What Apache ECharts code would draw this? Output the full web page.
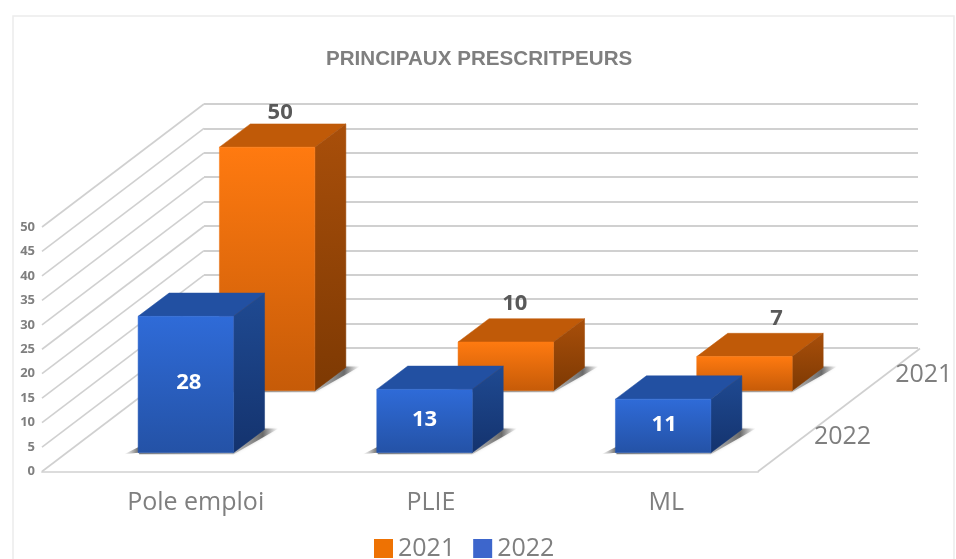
<!DOCTYPE html>
<html>
<head>
<meta charset="utf-8">
<title>Principaux prescripteurs</title>
<script src="https://cdn.jsdelivr.net/npm/echarts@6/dist/echarts.min.js"></script>
<style>
  html, body { margin: 0; padding: 0; background: #fff; }
  #chart { width: 956px; height: 559px; }
</style>
</head>
<body>
<div id="chart"></div>
<script>
const categories = ["Pole emploi", "PLIE", "ML"];
const values2021 = [50, 10, 7];
const values2022 = [28, 13, 11];
const yTicks = [0, 5, 10, 15, 20, 25, 30, 35, 40, 45, 50];

// oblique projection: how far back the floor goes, and how deep one bar is
const floorDx = 162, floorDy = 123;
const barDx = 31, barDy = 23.3;
const barRatio = 0.4;
const fontName = '"Open Sans", sans-serif';

// data label shifts [x, y] (labels were placed by hand in the original)
const labelShift2021 = [[13, -11], [9, -15], [32, -15]];
const labelShift2022 = [[3, -2], [0, -1], [1, -1]];

const grey = "#7f7f7f";
const lineGrey = "#d0d0d0";

function vertical(a, b) {
  return { type: "linear", x: 0, y: 0, x2: 0, y2: 1, colorStops: [{ offset: 0, color: a }, { offset: 1, color: b }] };
}

function horizontal(stops) {
  return { type: "linear", x: 0, y: 0, x2: 1, y2: 0, colorStops: stops };
}

function barRenderer(colors, labelFn) {
  return function (params, api) {
    const i = api.value(0);
    const base = api.coord([i, 0]);
    const top = api.coord([i, api.value(1)]);
    const w = api.size([1, 0])[0] * barRatio;
    const l = base[0] - w / 2, r = base[0] + w / 2;
    const yb = base[1], yt = top[1];

    const poly = (points, fill) => ({
      type: "polygon",
      shape: { points: points },
      style: { fill: fill, stroke: fill, lineWidth: 0.5 }
    });

    return {
      type: "group",
      children: [
        // soft shadow on the floor, right and left tails
        {
          type: "polygon",
          shape: { points: [[r, yb + 1.5], [r + barDx + 14, yb - barDy - 1], [r + barDx, yb - barDy - 1], [r, yb - 4]] },
          style: {
            fill: horizontal([
              { offset: 0, color: "rgba(130,130,130,0.45)" },
              { offset: 0.65, color: "rgba(70,70,70,0.75)" },
              { offset: 1, color: "rgba(120,120,120,0)" }
            ]),
            shadowBlur: 3,
            shadowColor: "rgba(120,120,120,0.45)"
          }
        },
        {
          type: "polygon",
          shape: { points: [[l - 14, yb + 1.5], [l + 1, yb - 6], [l + 1, yb + 1.5], [r, yb + 1.5], [r, yb], [l, yb]] },
          style: {
            fill: horizontal([
              { offset: 0, color: "rgba(120,120,120,0)" },
              { offset: 0.12, color: "rgba(70,70,70,0.7)" },
              { offset: 1, color: "rgba(110,110,110,0.5)" }
            ])
          }
        },
        poly([[l, yt], [r, yt], [r + barDx, yt - barDy], [l + barDx, yt - barDy]], colors.top),
        poly([[r, yt], [r + barDx, yt - barDy], [r + barDx, yb - barDy], [r, yb]], vertical(colors.side[0], colors.side[1])),
        poly([[l, yt], [r, yt], [r, yb], [l, yb]], vertical(colors.front[0], colors.front[1])),
        labelFn(i, api.value(1), { l: l, r: r, yt: yt, yb: yb })
      ]
    };
  };
}

const label2021 = (i, v, b) => ({
  type: "text",
  x: (b.l + b.r) / 2 + labelShift2021[i][0],
  y: b.yt - barDy + labelShift2021[i][1],
  style: { text: String(v), fill: "#595959", font: "bold 22px " + fontName, align: "center", verticalAlign: "middle" }
});

const label2022 = (i, v, b) => ({
  type: "text",
  x: (b.l + b.r) / 2 + labelShift2022[i][0],
  y: (b.yt + b.yb) / 2 + labelShift2022[i][1],
  style: { text: String(v), fill: "#fff", font: "bold 22px " + fontName, align: "center", verticalAlign: "middle" }
});

// side wall diagonals going back from the front plane
function renderWall(params, api) {
  const c = api.coord([0, api.value(1)]);
  const x0 = params.coordSys.x;
  return {
    type: "line",
    shape: { x1: x0, y1: c[1], x2: x0 + floorDx, y2: c[1] - floorDy },
    style: { stroke: lineGrey, lineWidth: 1.6 }
  };
}

function renderFloorEdge(params, api) {
  const s = params.coordSys;
  const y = api.coord([0, 0])[1];
  return {
    type: "line",
    shape: { x1: s.x + s.width, y1: y, x2: s.x + s.width + floorDx, y2: y - floorDy },
    style: { stroke: lineGrey, lineWidth: 1.6 }
  };
}

// row name at the right end of a row
function rowLabel(name) {
  return function (params, api) {
    const s = params.coordSys;
    const y = api.coord([0, 0])[1];
    return {
      type: "text",
      x: s.x + s.width + 60,
      y: y - 15.5,
      style: { text: name, fill: grey, font: "25px " + fontName, align: "center", verticalAlign: "middle" }
    };
  };
}

const hiddenX = (g) => ({ type: "category", gridIndex: g, data: categories, show: false });
const hiddenY = (g) => ({ type: "value", gridIndex: g, min: 0, max: 50, show: false });

const chart = echarts.init(document.getElementById("chart"), null, { renderer: "canvas" });

const option = {
  animation: false,
  backgroundColor: "#fff",
  graphic: [{
    type: "rect",
    silent: true,
    z: -1,
    shape: { x: 13, y: 16, width: 941, height: 570 },
    style: { fill: "#fff", stroke: "#ececec", lineWidth: 1.5 }
  }],
  title: {
    text: "PRINCIPAUX PRESCRITPEURS",
    left: 321,
    top: 44,
    textStyle: { fontFamily: "Liberation Sans", fontSize: 20.6, fontWeight: "bold", color: grey }
  },
  legend: {
    data: ["2021", "2022"],
    left: 369,
    top: 531,
    icon: "rect",
    itemWidth: 19,
    itemHeight: 19,
    itemGap: 18,
    textStyle: { fontFamily: "Open Sans", fontSize: 25, color: grey }
  },
  grid: [
    { left: 204, top: 104, width: 714, height: 244 },     // back wall
    { left: 42, top: 227, width: 716, height: 244.5 },    // front plane of the floor
    { left: 66.5, top: 209.2, width: 716, height: 243.5 },  // 2022 row
    { left: 147.8, top: 147.2, width: 716, height: 243.5 }, // 2021 row
    { left: 78, top: 227, width: 706, height: 244 }       // category labels
  ],
  xAxis: [
    hiddenX(0),
    {
      type: "category", gridIndex: 1, data: categories,
      axisLine: { show: true, lineStyle: { color: "#dcdcdc", width: 2 } },
      axisTick: { show: false },
      axisLabel: { show: false }
    },
    hiddenX(2),
    hiddenX(3),
    {
      type: "category", gridIndex: 4, data: categories,
      axisLine: { show: false },
      axisTick: { show: false },
      axisLabel: { margin: 19, fontFamily: "Open Sans", fontSize: 25, color: grey }
    }
  ],
  yAxis: [
    {
      type: "value", gridIndex: 0, min: 0, max: 50, interval: 5,
      axisLine: { show: false }, axisTick: { show: false }, axisLabel: { show: false },
      splitLine: { show: true, lineStyle: { color: lineGrey, width: 2 } }
    },
    {
      type: "value", gridIndex: 1, min: 0, max: 50, interval: 5,
      axisLine: { show: false }, axisTick: { show: false },
      splitLine: { show: false },
      axisLabel: { margin: 7, fontFamily: "Open Sans", fontSize: 13, fontWeight: "bold", color: grey }
    },
    hiddenY(2),
    hiddenY(3),
    hiddenY(4)
  ],
  series: [
    {
      type: "custom", name: "wall", xAxisIndex: 1, yAxisIndex: 1, silent: true,
      renderItem: renderWall,
      data: yTicks.map((v) => [0, v])
    },
    {
      type: "custom", name: "floor", xAxisIndex: 1, yAxisIndex: 1, silent: true,
      renderItem: renderFloorEdge,
      data: [[0, 0]]
    },
    {
      type: "custom", name: "2021", xAxisIndex: 3, yAxisIndex: 3,
      itemStyle: { color: "#ee7203" },
      renderItem: barRenderer({
        top: "#c05a08",
        side: ["#a94f0a", "#7d3903"],
        front: ["#ff7a10", "#c65b08"]
      }, label2021),
      data: values2021.map((v, i) => [i, v])
    },
    {
      type: "custom", name: "2022", xAxisIndex: 2, yAxisIndex: 2,
      itemStyle: { color: "#3d66cc" },
      renderItem: barRenderer({
        top: "#2250a2",
        side: ["#1f4a92", "#14336e"],
        front: ["#2f6bd8", "#2452a6"]
      }, label2022),
      data: values2022.map((v, i) => [i, v])
    },
    {
      type: "custom", name: "row2021", xAxisIndex: 3, yAxisIndex: 3, silent: true,
      renderItem: rowLabel("2021"),
      data: [[0, 0]]
    },
    {
      type: "custom", name: "row2022", xAxisIndex: 2, yAxisIndex: 2, silent: true,
      renderItem: rowLabel("2022"),
      data: [[0, 0]]
    }
  ]
};

chart.setOption(option);
</script>
</body>
</html>
